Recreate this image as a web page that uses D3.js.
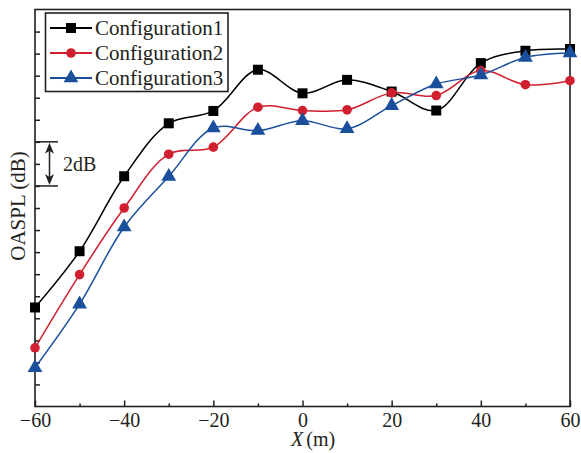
<!DOCTYPE html>
<html>
<head>
<meta charset="utf-8">
<script src="https://cdn.jsdelivr.net/npm/d3@7"></script>
<style>
  html, body { margin: 0; padding: 0; background: #fff; }
  svg { display: block; }
  text { font-family: "Liberation Serif", "Times New Roman", serif; fill: #231f20; }
</style>
</head>
<body>
<svg id="chart" width="581" height="453"></svg>
<script>
// Receiver position along the track (m)
const positions = [-60, -50, -40, -30, -20, -10, 0, 10, 20, 30, 40, 50, 60];
// OASPL relative to the bottom of the axis (dB), one array per configuration
const config1 = [4.49, 7.04, 10.44, 12.84, 13.40, 15.27, 14.20, 14.81, 14.28, 13.42, 15.57, 16.13, 16.21];
const config2 = [2.66, 5.98, 9.00, 11.44, 11.76, 13.57, 13.42, 13.45, 14.22, 14.10, 15.23, 14.59, 14.77];
const config3 = [1.76, 4.64, 8.14, 10.43, 12.63, 12.51, 12.96, 12.59, 13.64, 14.62, 15.03, 15.83, 16.03];
const seriesNames = ["Configuration1", "Configuration2", "Configuration3"];
const xMajorTicks = [-60, -40, -20, 0, 20, 40, 60];
const xMinorTicks = [-50, -30, -10, 10, 30, 50];
const yTicks = [1, 2, 3, 4, 5, 6, 7, 8, 9, 10, 11, 12, 13, 14, 15, 16, 17];
// Scale bar: span between two dB levels
const scaleBar = [10, 12];

const svg = d3.select("#chart");
const plotLeft = 35, plotRight = 570, plotTop = 9.5, plotBottom = 406.5;

const x = d3.scaleLinear().domain([-60, 60]).range([plotLeft, plotRight]);
const y = d3.scaleLinear().domain([0, 18]).range([plotBottom, plotTop]);

const series = [
  { name: seriesNames[0], values: config1, color: "#000000", symbol: d3.symbolSquare, size: 100 },
  { name: seriesNames[1], values: config2, color: "#d01f2e", symbol: d3.symbolCircle, size: 72 },
  { name: seriesNames[2], values: config3, color: "#1a4f9c", symbol: d3.symbolTriangle, size: 95 }
];

const axisColor = "#231f20";

// x axis: major and minor inward ticks
const gx = svg.append("g").attr("transform", `translate(0,${plotBottom})`)
  .call(d3.axisBottom(x).tickValues(xMajorTicks).tickSizeInner(-6).tickSizeOuter(0).tickPadding(6)
    .tickFormat(d => d < 0 ? "\u2212" + Math.abs(d) : d));
gx.select(".domain").remove();
gx.selectAll("line").attr("stroke", axisColor).attr("stroke-width", 1.5);
gx.selectAll("text").attr("font-size", 20).attr("fill", axisColor);

const gxm = svg.append("g").attr("transform", `translate(0,${plotBottom})`)
  .call(d3.axisBottom(x).tickValues(xMinorTicks).tickSizeInner(-3).tickSizeOuter(0).tickFormat(""));
gxm.select(".domain").remove();
gxm.selectAll("line").attr("stroke", axisColor).attr("stroke-width", 1.5);

// y axis: unlabeled inward ticks every 1 dB
const gy = svg.append("g").attr("transform", `translate(${plotLeft},0)`)
  .call(d3.axisLeft(y).tickValues(yTicks).tickSizeInner(-5).tickSizeOuter(0).tickFormat(""));
gy.select(".domain").remove();
gy.selectAll("line").attr("stroke", axisColor).attr("stroke-width", 1.5);

// frame
svg.append("rect")
  .attr("x", plotLeft).attr("y", plotTop)
  .attr("width", plotRight - plotLeft).attr("height", plotBottom - plotTop)
  .attr("fill", "none").attr("stroke", axisColor).attr("stroke-width", 1.6);

// curves and markers
const line = d3.line()
  .x((d, i) => x(positions[i]))
  .y(d => y(d))
  .curve(d3.curveCatmullRom.alpha(0.5));

series.forEach(s => {
  svg.append("path")
    .datum(s.values)
    .attr("d", line)
    .attr("fill", "none")
    .attr("stroke", s.color)
    .attr("stroke-width", 1.5);
  svg.append("g").selectAll("path")
    .data(s.values)
    .join("path")
    .attr("transform", (d, i) => `translate(${x(positions[i])},${y(d)})`)
    .attr("d", d3.symbol().type(s.symbol).size(s.size))
    .attr("fill", s.color);
});

// axis titles
const xt = svg.append("text")
  .attr("x", 291).attr("y", 446)
  .attr("font-size", 20);
xt.append("tspan").attr("font-style", "italic").text("X");
xt.append("tspan").attr("dx", 3).text("(m)");

svg.append("text")
  .attr("transform", `translate(25,206) rotate(-90)`)
  .attr("text-anchor", "middle")
  .attr("font-size", 21)
  .text("OASPL (dB)");

// 2 dB scale bar
const barTop = y(scaleBar[1]), barBot = y(scaleBar[0]);
const bar = svg.append("g").attr("stroke", axisColor).attr("stroke-width", 1.5);
bar.append("line").attr("x1", plotLeft).attr("x2", 58).attr("y1", barTop).attr("y2", barTop);
bar.append("line").attr("x1", plotLeft).attr("x2", 58).attr("y1", barBot).attr("y2", barBot);
bar.append("line").attr("x1", 49.5).attr("x2", 49.5).attr("y1", barTop + 6).attr("y2", barBot - 6);
svg.append("path")
  .attr("d", `M49.5,${barTop + 1} L45,${barTop + 12} L49.5,${barTop + 9} L54,${barTop + 12} Z`)
  .attr("fill", axisColor);
svg.append("path")
  .attr("d", `M49.5,${barBot - 1} L45,${barBot - 12} L49.5,${barBot - 9} L54,${barBot - 12} Z`)
  .attr("fill", axisColor);
svg.append("text")
  .attr("x", 63).attr("y", (barTop + barBot) / 2 + 7)
  .attr("font-size", 20)
  .text((scaleBar[1] - scaleBar[0]) + "dB");

// legend
const lg = svg.append("g");
lg.append("rect")
  .attr("x", 45.5).attr("y", 13)
  .attr("width", 182.5).attr("height", 78.5)
  .attr("fill", "#fff").attr("stroke", axisColor).attr("stroke-width", 1.6);
series.forEach((s, i) => {
  const cy = 28 + i * 25;
  lg.append("line")
    .attr("x1", 50).attr("x2", 92).attr("y1", cy).attr("y2", cy)
    .attr("stroke", s.color).attr("stroke-width", 2);
  lg.append("path")
    .attr("transform", `translate(71,${cy})`)
    .attr("d", d3.symbol().type(s.symbol).size(s.size))
    .attr("fill", s.color);
  lg.append("text")
    .attr("x", 95).attr("y", cy + 7)
    .attr("font-size", 21)
    .text(s.name);
});
</script>
</body>
</html>
